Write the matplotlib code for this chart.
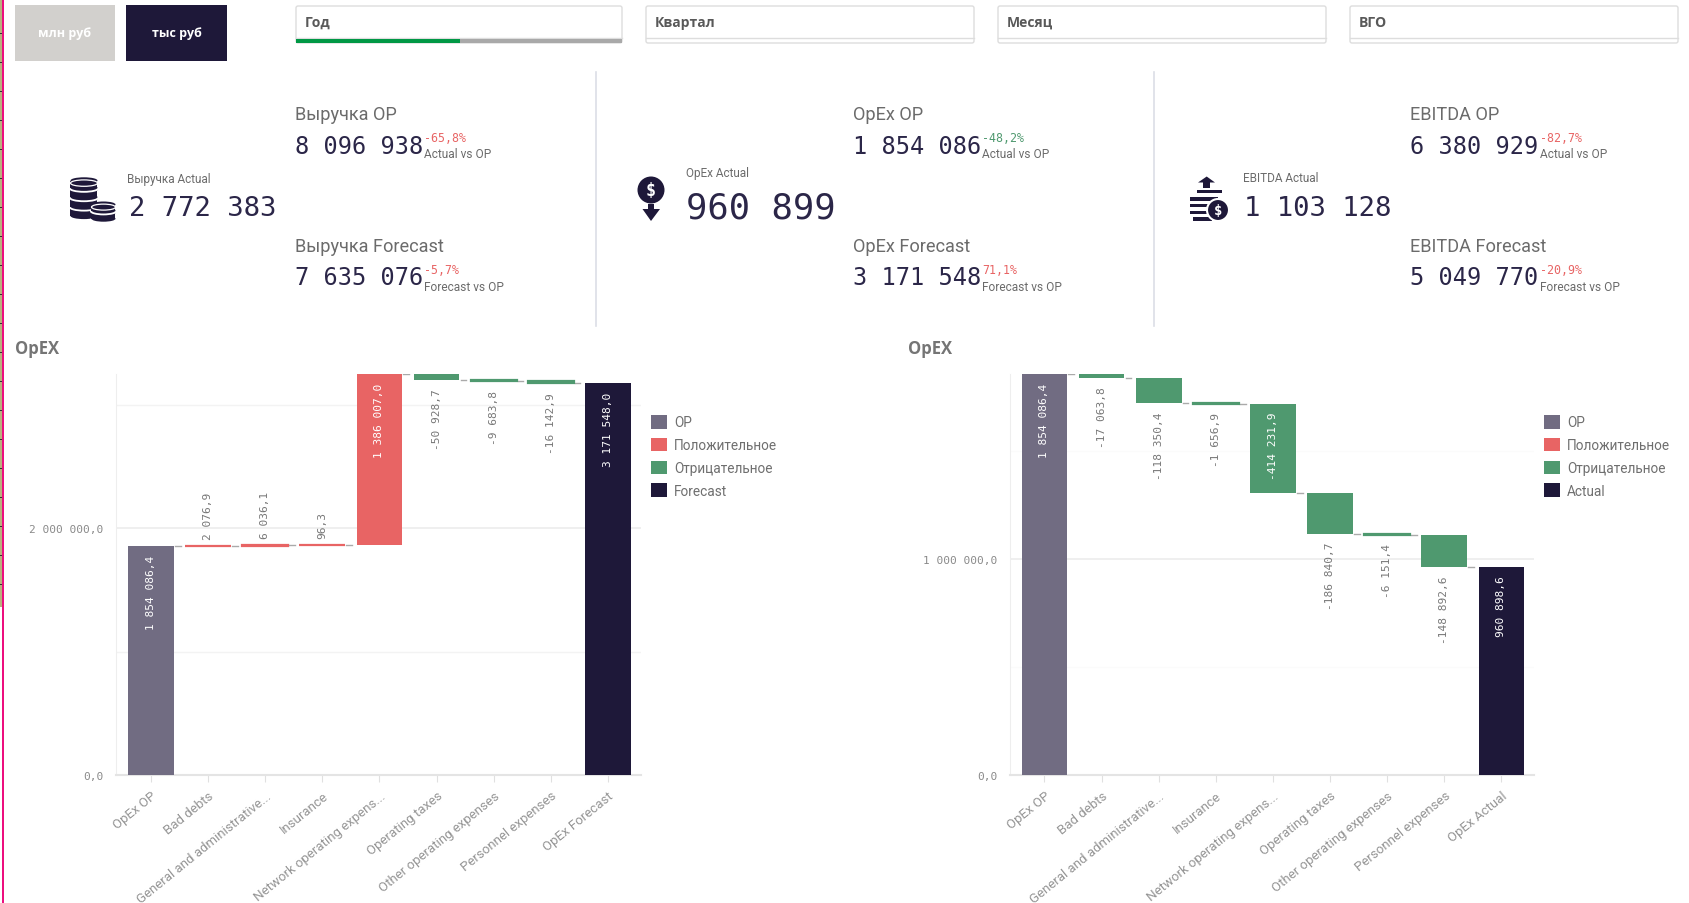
import matplotlib
matplotlib.use("Agg")
import matplotlib.pyplot as plt
from matplotlib.patches import Rectangle, Circle, Ellipse, Polygon, Patch, FancyBboxPatch
from matplotlib.ticker import FuncFormatter, FixedLocator
import numpy as np

# ---------- data ----------
steps = ["Bad debts", "General and administrative...", "Insurance", "Network operating expens...",
         "Operating taxes", "Other operating expenses", "Personnel expenses"]
forecast_start = 1854086.4
forecast_deltas = [2076.9, 6036.1, 96.3, 1386007.0, -50928.7, -9683.8, -16142.9]
forecast_end = 3171548.0
actual_start = 1854086.4
actual_deltas = [-17063.8, -118350.4, -1656.9, -414231.9, -186840.7, -6151.4, -148892.6]
actual_end = 960898.6
forecast_ticks = [0, 2000000]
forecast_minor = [1000000, 3000000]
actual_ticks = [0, 1000000]
actual_minor = [500000, 1500000]

filters = ["Год", "Квартал", "Месяц", "ВГО"]
buttons = ["млн руб", "тыс руб"]
kpi_actual = [("Выручка Actual", "2 772 383"), ("OpEx Actual", "960 899"), ("EBITDA Actual", "1 103 128")]
kpi_op = [("Выручка OP", "8 096 938", "-65,8%"), ("OpEx OP", "1 854 086", "-48,2%"), ("EBITDA OP", "6 380 929", "-82,7%")]
kpi_fc = [("Выручка Forecast", "7 635 076", "-5,7%"), ("OpEx Forecast", "3 171 548", "71,1%"), ("EBITDA Forecast", "5 049 770", "-20,9%")]
kpi_op_good = [False, True, False]

C_OP, C_POS, C_NEG, C_END = "#716c82", "#e86464", "#4f996f", "#1e1839"
W, H = 1690, 904
SANS = ["Roboto", "DejaVu Sans"]
BOLD = ["Open Sans", "DejaVu Sans"]
MONO = ["DejaVu Sans Mono"]

fig = plt.figure(figsize=(W / 100, H / 100), dpi=100, facecolor="white")
ui = fig.add_axes([0, 0, 1, 1])
ui.set_xlim(0, W); ui.set_ylim(H - 1, -1); ui.axis("off")


def rect(x0, y0, x1, y1, color, z=1):
    ui.add_patch(Rectangle((x0, y0), x1 - x0, y1 - y0, fc=color, ec="none", zorder=z))


# left edge strip
rect(0, -1, 2, 607, "#b9b27e")
for y in range(33, 607, 29):
    rect(0, y, 2, y + 1, "#333333", 2)
rect(2, -1, 4.3, H, "#ec0f7e", 3)

# buttons
for (x0, x1, col), label in zip([(15, 115, "#d2d0cd"), (126, 227, C_END)], buttons):
    rect(x0, 5, x1, 61, col)
    ui.text((x0 + x1) / 2, 32.5, label, color="white", fontsize=9, fontweight="bold",
            family=BOLD, ha="center", va="center")

# filter boxes
for (x0, x1), label in zip([(296, 622), (646, 974), (998, 1326), (1350, 1678)], filters):
    ui.add_patch(FancyBboxPatch((x0, 6), x1 - x0, 37, boxstyle="round,pad=0,rounding_size=2",
                                fc="white", ec="#dddddd", lw=1))
    ui.plot([x0, x1], [38, 38], color="#dddddd", lw=1)
    ui.text(x0 + 9, 22, label, color="#595959", fontsize=10, fontweight="bold",
            family=BOLD, va="center")
rect(296, 39, 460, 43, "#009845", 3)
rect(460, 39, 622, 43, "#a9a9a9", 3)

# separators
for x in (596, 1154):
    ui.plot([x, x], [72, 326], color="#dcdee6", lw=1.2)

# KPI blocks
LBL = "#6b6b6b"
NUM = "#2b2648"
for i, (xl, xn, fs, yl) in enumerate([(127, 129, 19.6, 178), (686, 686, 25.6, 172), (1243, 1244, 19.6, 178)]):
    ui.text(xl, yl, kpi_actual[i][0], color=LBL, fontsize=8.5, family=SANS, va="center")
    ui.text(xn, 207.5, kpi_actual[i][1], color=NUM, fontsize=fs, family=MONO, va="center")
for i, (xn, xp) in enumerate([(295, 424), (853, 982), (1410, 1540)]):
    op = kpi_op[i]
    fc = kpi_fc[i]
    ui.text(xn, 114.5, op[0], color=LBL, fontsize=13.1, family=SANS, va="center")
    ui.text(xn, 145.5, op[1], color=NUM, fontsize=17, family=MONO, va="center")
    ui.text(xp, 138, op[2], color=C_NEG if kpi_op_good[i] else C_POS, fontsize=8.4, family=MONO, va="center")
    ui.text(xp, 154, "Actual vs OP", color=LBL, fontsize=8.6, family=SANS, va="center")
    ui.text(xn, 246.5, fc[0], color=LBL, fontsize=13.1, family=SANS, va="center")
    ui.text(xn, 277.5, fc[1], color=NUM, fontsize=17, family=MONO, va="center")
    ui.text(xp, 270, fc[2], color=C_POS, fontsize=8.4, family=MONO, va="center")
    ui.text(xp, 287, "Forecast vs OP", color=LBL, fontsize=8.6, family=SANS, va="center")


# icons
def coin_stack(cx, top, rx, ry, n, step, gap=2.2):
    body = step - gap
    for k in range(n - 1, -1, -1):
        y = top + k * step
        # white carve above the lower layer, then this layer's body
        ui.add_patch(Ellipse((cx, y + body + gap * 0.5), 2 * rx + 3, 2 * ry + 1.5, fc="white", ec="none", zorder=5))
        ui.add_patch(Ellipse((cx, y + body), 2 * rx, 2 * ry, fc=C_END, ec="none", zorder=5))
        rect(cx - rx, y, cx + rx, y + body, C_END, 5)
        ui.add_patch(Ellipse((cx, y), 2 * rx, 2 * ry, fc=C_END, ec="none", zorder=5))
        if k == 0:
            ui.add_patch(Ellipse((cx, y + 2.6), 2 * rx, 2 * ry, fc="none", ec="white", lw=0.9, zorder=5))


coin_stack(84, 180.5, 13.5, 3.2, 4, 9.4)
coin_stack(103.5, 204.5, 12, 3, 2, 8.2)

ui.add_patch(Circle((651, 190), 13.5, fc=C_END, ec="none", zorder=5))
ui.text(651, 190, "$", color="white", fontsize=12, fontweight="bold", family=MONO,
        ha="center", va="center", zorder=6)
rect(648, 204, 654, 212, C_END, 5)
ui.add_patch(Polygon([(642.5, 209), (660, 209), (651, 221)], fc=C_END, ec="none", zorder=5))

ui.add_patch(Polygon([(1198, 182.5), (1215, 182.5), (1206.7, 176.5)], fc=C_END, ec="none", zorder=5))
rect(1203, 182, 1210.5, 188, C_END, 5)
for y, x0, x1 in [(191.7, 1196.7, 1221.7), (199, 1190, 1218), (205.7, 1190, 1212),
                  (212.7, 1190, 1210), (219, 1193, 1212)]:
    rect(x0, y - 1.7, x1, y + 1.7, C_END, 5)
ui.add_patch(Circle((1218, 210), 11, fc=C_END, ec="white", lw=1.5, zorder=6))
ui.text(1218, 210, "$", color="white", fontsize=10, fontweight="bold", family=MONO,
        ha="center", va="center", zorder=7)


def fmt(v, pos=None):
    s = f"{abs(v):,.1f}".replace(",", " ").replace(".", ",")
    return ("-" if v < 0 else "") + s


def waterfall(left, right, title_x, start, deltas, end, first, last, endname, major, minor, xr, minor_col):
    top_px, base_px = 375, 776
    ax = fig.add_axes([left / W, 1 - base_px / H, (right - left) / W, (base_px - top_px) / H])
    ax.patch.set_alpha(0)
    labels = [first] + steps + [last]
    levels = np.cumsum([start] + deltas)
    ymax = levels.max()
    n = len(labels)
    x = np.arange(n)
    bottoms, heights, colors = [start * 0], [start], [C_OP]
    for i, d in enumerate(deltas):
        bottoms.append(min(levels[i], levels[i + 1]))
        heights.append(abs(d))
        colors.append(C_POS if d > 0 else C_NEG)
    bottoms.append(0); heights.append(end); colors.append(C_END)
    values = [start] + deltas + [end]
    lws = [1.6 if h < 0.008 * ymax else 0 for h in heights]
    ax.bar(x, heights, bottom=bottoms, width=0.8, color=colors, edgecolor=colors, linewidth=lws, zorder=3)

    for i, lv in enumerate(levels):
        ax.plot([i + 0.42, i + 0.52], [lv, lv], color="#aaaaaa", lw=1, zorder=2)

    px_per = (base_px - top_px) / ymax
    for i, (v, b, h) in enumerate(zip(values, bottoms, heights)):
        inside = h * px_per > 78
        if inside:
            ax.annotate(fmt(v), (i, b + h), xytext=(0, -6), textcoords="offset points", rotation=90,
                        ha="center", va="top", color="white", fontsize=8, family=MONO, zorder=4)
        elif v > 0:
            ax.annotate(fmt(v), (i, b + h), xytext=(0, 5), textcoords="offset points", rotation=90,
                        ha="center", va="bottom", color="#777777", fontsize=8, family=MONO, zorder=4)
        else:
            ax.annotate(fmt(v), (i, b), xytext=(0, -6), textcoords="offset points", rotation=90,
                        ha="center", va="top", color="#777777", fontsize=8, family=MONO, zorder=4)

    ax.set_xlim(*xr)
    ax.set_ylim(0, ymax)
    ax.yaxis.set_major_locator(FixedLocator(major))
    ax.yaxis.set_minor_locator(FixedLocator(minor))
    ax.yaxis.set_major_formatter(FuncFormatter(fmt))
    ax.grid(True, which="major", axis="y", color="#ececec", lw=1.2, zorder=0)
    ax.grid(True, which="minor", axis="y", color=minor_col, lw=1, zorder=0)
    ax.tick_params(axis="y", which="both", length=0, pad=9, labelsize=8, labelcolor="#8a8a8a")
    for t in ax.get_yticklabels():
        t.set_family(MONO)
    ax.set_xticks(x)
    ax.set_xticklabels(labels, rotation=39, ha="right", va="top", rotation_mode="anchor",
                       fontsize=9.5, color="#959595", family=SANS)
    ax.tick_params(axis="x", length=5, color="#e0e0e0", pad=5)
    for s in ("top", "right"):
        ax.spines[s].set_visible(False)
    ax.spines["left"].set_color("#eeeeee")
    ax.spines["bottom"].set_color("#e4e4e4")
    ax.spines["bottom"].set_linewidth(1.5)

    ui.text(title_x, 348, "OpEX", color="#757575", fontsize=12, fontweight="bold", family=BOLD, va="center")
    handles = [Patch(fc=C_OP, label="OP"), Patch(fc=C_POS, label="Положительное"),
               Patch(fc=C_NEG, label="Отрицательное"), Patch(fc=C_END, label=endname)]
    lx = right + 10
    leg = fig.legend(handles=handles, loc="upper left", bbox_to_anchor=(lx / W, 1 - 416 / H), frameon=False,
                     borderpad=0, borderaxespad=0, handlelength=1.15, handleheight=1.15, handletextpad=0.55,
                     labelspacing=0.62, prop={"family": SANS, "size": 9.8})
    for t in leg.get_texts():
        t.set_color("#6f6f6f")
    return ax


waterfall(116, 641, 15, forecast_start, forecast_deltas, forecast_end, "OpEx OP", "OpEx Forecast", "Forecast",
          forecast_ticks, forecast_minor, (-0.613, 8.58), "#f3f3f3")
waterfall(1010, 1534, 908, actual_start, actual_deltas, actual_end, "OpEx OP", "OpEx Actual", "Actual",
          actual_ticks, actual_minor, (-0.604, 8.57), "#fbfbfb")

fig.savefig("out.png", dpi=100, facecolor="white")
